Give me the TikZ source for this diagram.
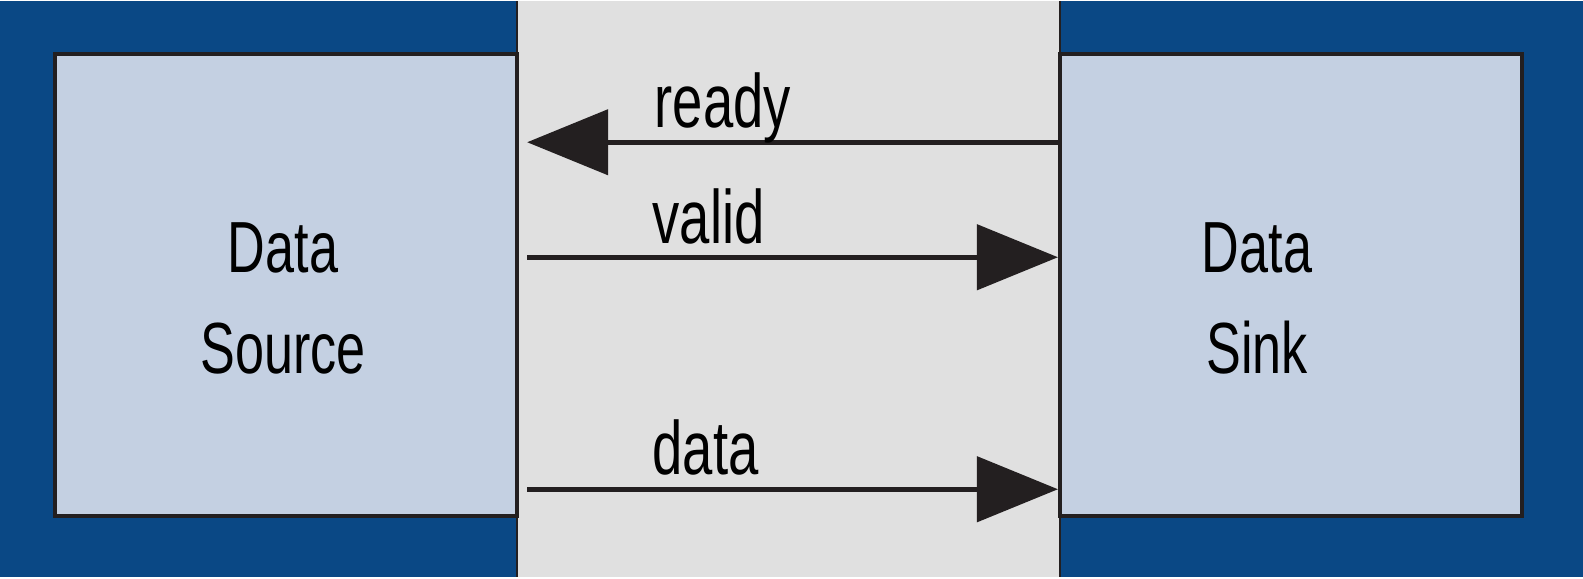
\documentclass[tikz,border=0pt]{standalone}
\usepackage{fontspec}
\setmainfont[FakeStretch=0.72]{Liberation Sans}
\usepackage{tikz}
\usetikzlibrary{arrows.meta,positioning}
\definecolor{bgblue}{HTML}{0A4885}
\definecolor{boxfill}{HTML}{C4D0E2}
\definecolor{lane}{HTML}{E0E0E0}
\definecolor{ink}{HTML}{231F20}
\tikzset{blk/.style={draw=ink,fill=boxfill,line width=1.1pt,minimum width=4.62cm,minimum height=4.62cm,inner sep=0pt},
  blktext/.style={align=center,inner sep=0pt},
  sig/.style={ink,line width=1.3pt,-{Triangle[length=8.1mm,width=6.5mm]}},
  lbl/.style={anchor=base west,inner sep=0pt}}
\begin{document}
\begin{tikzpicture}[x=0.01cm,y=-0.01cm,font=\fontsize{20.6}{28.7}\selectfont]
  \fill[bgblue] (0,0) rectangle (1583,576);
  \fill[lane] (517,0) rectangle (1060,576);
  \draw[ink,line width=0.7pt] (517,0) -- (517,576) (1060,0) -- (1060,576);
  \node[blk] (src) at (286,284) {};
  \node[blk] (snk) at (1291,284) {};
  \node[blktext] (srct) at (283,297) {Data\\Source};
  \node[blktext] (snkt) at (1257,297) {Data\\Sink};
  % handshake signals
  \draw[sig,shorten >=2.3pt] (snk.west |- 0,141) -- (src.east |- 0,141);
  \draw[sig,shorten <=2.3pt] (src.east |- 0,256) -- (snk.west |- 0,256);
  \draw[sig,shorten <=2.3pt] (src.east |- 0,488) -- (snk.west |- 0,488);
  \node[lbl,font=\fontsize{21.5}{28.7}\selectfont] (rdy) at (654,126) {ready};
  \node[lbl,font=\fontsize{21.5}{28.7}\selectfont] (vld) at (652,242) {valid};
  \node[lbl,font=\fontsize{21.5}{28.7}\selectfont] (dat) at (652,473) {data};
\end{tikzpicture}
\end{document}
